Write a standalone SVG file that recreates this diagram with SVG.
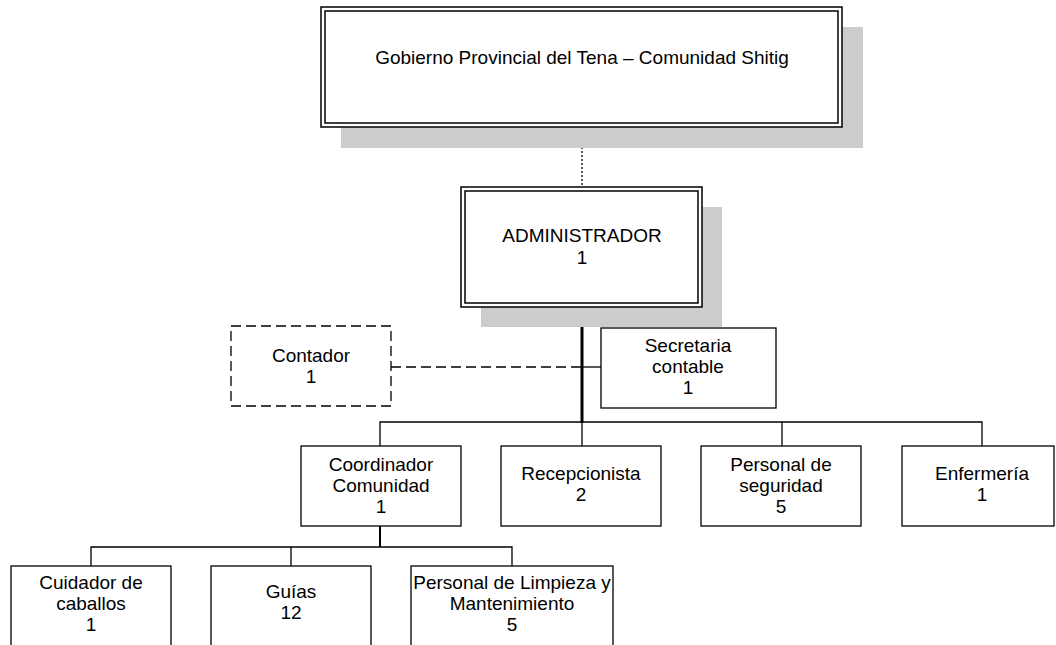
<svg xmlns="http://www.w3.org/2000/svg" width="1056" height="645" viewBox="0 0 1056 645">
<style>
text{font-family:"Liberation Sans",Arial,sans-serif;font-size:19px;fill:#000;text-anchor:middle}
.box{fill:#fff;stroke:#000;stroke-width:1.3}
.dbl{fill:none;stroke:#000;stroke-width:1.5}
.shadow{fill:#cccccc;stroke:none}
.ln{fill:none;stroke:#000;stroke-width:1.3}
.thick{stroke-width:3}
.mid{stroke-width:2}
.dot{stroke-dasharray:2 2}
.dash{fill:none;stroke:#000;stroke-width:1.3;stroke-dasharray:10 5}
</style>
<rect width="1056" height="645" fill="#fff"/>
<g id="connectors">
<line class="ln dot" x1="582" y1="127" x2="582" y2="187"/>
<line class="ln thick" x1="582" y1="307" x2="582" y2="423"/>
<line class="ln" x1="582" y1="367" x2="601" y2="367"/>
<line class="dash" x1="391" y1="367" x2="582" y2="367"/>
<polyline class="ln" points="380,446 380,422 982,422 982,446"/>
<line class="ln" x1="582" y1="422" x2="582" y2="446"/>
<line class="ln" x1="782" y1="422" x2="782" y2="446"/>
<line class="ln mid" x1="380" y1="526" x2="380" y2="547"/>
<polyline class="ln" points="91,566 91,547 512,547 512,566"/>
<line class="ln" x1="291" y1="547" x2="291" y2="566"/>
</g>
<g id="gobierno">
<rect class="shadow" x="341" y="27" width="522" height="121"/>
<rect class="box" x="321" y="7" width="521" height="120" style="stroke-width:1.5"/>
<rect class="dbl" x="325" y="11" width="513" height="112"/>
<text x="582" y="64">Gobierno Provincial del Tena – Comunidad Shitig</text>
</g>
<g id="administrador">
<rect class="shadow" x="481" y="207" width="241" height="120"/>
<rect class="box" x="461" y="187" width="241" height="120" style="stroke-width:1.5"/>
<rect class="dbl" x="465" y="191" width="233" height="112"/>
<text x="582" y="242">ADMINISTRADOR</text>
<text x="582" y="264">1</text>
</g>
<g id="contador">
<rect class="dash" x="231" y="326" width="160" height="80"/>
<text x="311" y="362">Contador</text>
<text x="311" y="383">1</text>
</g>
<g id="secretaria">
<rect class="box" x="601" y="328" width="175" height="80"/>
<text x="688" y="352">Secretaria</text>
<text x="688" y="373">contable</text>
<text x="688" y="394">1</text>
</g>
<g id="coordinador">
<rect class="box" x="301" y="446" width="160" height="80"/>
<text x="381" y="471">Coordinador</text>
<text x="381" y="492">Comunidad</text>
<text x="381" y="513">1</text>
</g>
<g id="recepcionista">
<rect class="box" x="501" y="446" width="160" height="80"/>
<text x="581" y="480">Recepcionista</text>
<text x="581" y="501">2</text>
</g>
<g id="seguridad">
<rect class="box" x="701" y="446" width="160" height="80"/>
<text x="781" y="471">Personal de</text>
<text x="781" y="492">seguridad</text>
<text x="781" y="513">5</text>
</g>
<g id="enfermeria">
<rect class="box" x="902" y="446" width="152" height="80"/>
<text x="982" y="480">Enfermería</text>
<text x="982" y="501">1</text>
</g>
<g id="cuidador">
<rect class="box" x="11" y="566" width="160" height="90"/>
<text x="91" y="589">Cuidador de</text>
<text x="91" y="610">caballos</text>
<text x="91" y="631">1</text>
</g>
<g id="guias">
<rect class="box" x="211" y="566" width="160" height="90"/>
<text x="291" y="598">Guías</text>
<text x="291" y="619">12</text>
</g>
<g id="limpieza">
<rect class="box" x="411" y="566" width="202" height="90"/>
<text x="512" y="589">Personal de Limpieza y</text>
<text x="512" y="610">Mantenimiento</text>
<text x="512" y="631">5</text>
</g>
</svg>
